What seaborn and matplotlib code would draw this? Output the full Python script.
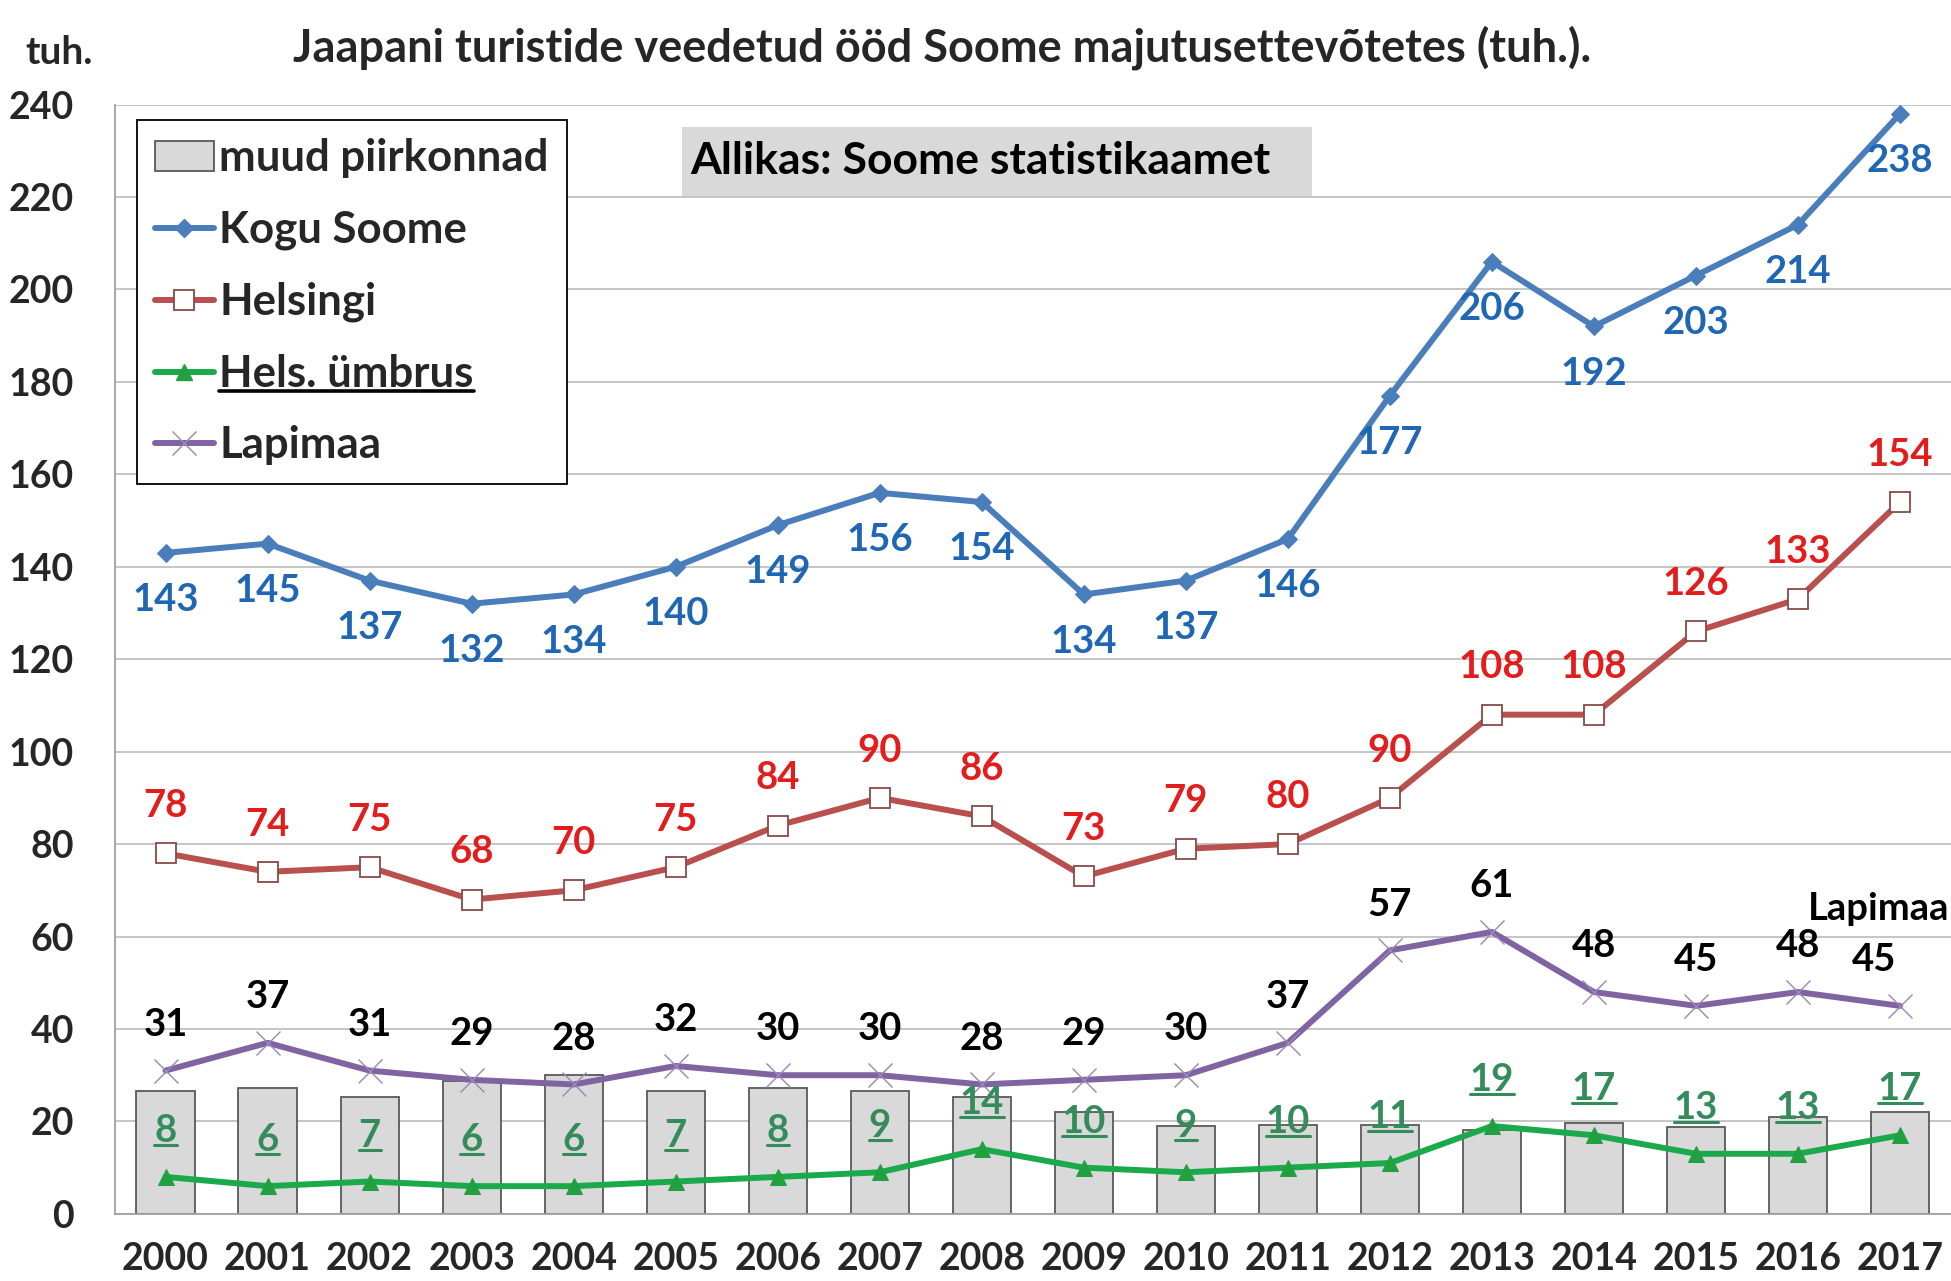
import numpy as np
import pandas as pd
import matplotlib
matplotlib.use("Agg")
import matplotlib.pyplot as plt
import seaborn as sns
from matplotlib.lines import Line2D
from matplotlib.patches import Patch, Rectangle

# data
years = [str(y) for y in range(2000, 2018)]
muud = [26.5, 27.2, 25.2, 28.8, 30.1, 26.5, 27.2, 26.5, 25.2, 22.1,
        19.0, 19.3, 19.3, 18.2, 19.7, 18.7, 21.0, 22.1]
kogu = [143, 145, 137, 132, 134, 140, 149, 156, 154, 134, 137, 146, 177, 206, 192, 203, 214, 238]
helsingi = [78, 74, 75, 68, 70, 75, 84, 90, 86, 73, 79, 80, 90, 108, 108, 126, 133, 154]
umbrus = [8, 6, 7, 6, 6, 7, 8, 9, 14, 10, 9, 10, 11, 19, 17, 13, 13, 17]
lapimaa = [31, 37, 31, 29, 28, 32, 30, 30, 28, 29, 30, 37, 57, 61, 48, 45, 48, 45]
y_ticks = list(range(0, 241, 20))

sns.set_style("white")
plt.rcParams['font.family'] = ['Lato', 'DejaVu Sans']
plt.rcParams['font.weight'] = 'bold'

fig = plt.figure(figsize=(19.51, 12.81), dpi=100)
ax = fig.add_axes([0.0587, 0.0524, 0.9413, 0.866])

idx = np.arange(len(years))
df = pd.DataFrame({'year': years, 'muud': muud})

# bars
sns.barplot(data=df, x='year', y='muud', color='#d9d9d9', edgecolor='#595959',
            linewidth=1.3, width=0.57, saturation=1, ax=ax, zorder=2)

# lines
lw = 4.3
sns.lineplot(x=idx, y=kogu, color='#4a7ebb', linewidth=lw, marker='D', markersize=9,
             markeredgecolor='#4a7ebb', ax=ax, zorder=4)
sns.lineplot(x=idx, y=helsingi, color='#b9504d', linewidth=lw, marker='s', markersize=15,
             markerfacecolor='white', markeredgecolor='#8a4a48', markeredgewidth=1.3,
             ax=ax, zorder=4)
sns.lineplot(x=idx, y=umbrus, color='#1aaa4b', linewidth=lw, marker='^', markersize=12,
             markerfacecolor='#22a040', markeredgecolor='#22a040', ax=ax, zorder=4)
sns.lineplot(x=idx, y=lapimaa, color='#8064a2', linewidth=lw, marker='x', markersize=17,
             markeredgewidth=1.0, markeredgecolor='#9a86b8', ax=ax, zorder=4)

# data labels
lab_fs = 27.5
for i in idx:
    ax.annotate(str(kogu[i]), (i, kogu[i]), xytext=(0, -34), textcoords='offset points',
                ha='center', va='center', fontsize=lab_fs, fontweight='bold', color='#1f66b5', zorder=6)
    ax.annotate(str(helsingi[i]), (i, helsingi[i]), xytext=(0, 34), textcoords='offset points',
                ha='center', va='center', fontsize=lab_fs, fontweight='bold', color='#e31c1c', zorder=6)
    dx = -19 if i == len(years) - 1 else 0
    ax.annotate(str(lapimaa[i]), (i, lapimaa[i]), xytext=(dx, 33), textcoords='offset points',
                ha='center', va='center', fontsize=lab_fs, fontweight='bold', color='black', zorder=6)

green_texts = []
for i in idx:
    t = ax.annotate(str(umbrus[i]), (i, umbrus[i]), xytext=(0, 33), textcoords='offset points',
                    ha='center', va='center', fontsize=lab_fs, fontweight='bold', color='#338c5a', zorder=6)
    green_texts.append(t)

ax.text(17.48, 66, 'Lapimaa', ha='right', va='center', fontsize=lab_fs, fontweight='bold', color='black')

# source box
ax.add_patch(Rectangle((5.06, 220.3), 6.18, 14.8, facecolor='#d9d9d9', edgecolor='none', zorder=3))
ax.text(5.14, 227.8, 'Allikas: Soome statistikaamet', ha='left', va='center',
        fontsize=32, fontweight='bold', color='black', zorder=5)

# axes styling
ax.set_xlim(-0.5, len(years) - 0.5)
ax.set_ylim(0, 240)
ax.set_yticks(y_ticks)
ax.set_xticks(idx)
ax.set_xticklabels(years)
ax.set_xticks(np.arange(-0.5, len(years), 1), minor=True)
ax.set_xlabel('')
ax.set_ylabel('')
ax.grid(axis='y', color='#c0c0c0', linewidth=1.3, zorder=0)
ax.set_axisbelow(True)
ax.tick_params(axis='x', which='major', length=0, pad=20, labelsize=27)
ax.tick_params(axis='x', which='minor', length=14, width=1.2, color='#a0a0a0')
ax.tick_params(axis='y', length=9, width=1.2, color='#a0a0a0', pad=20, labelsize=27)
for lbl in ax.get_xticklabels() + ax.get_yticklabels():
    lbl.set_fontweight('bold')
for s in ['top', 'right']:
    ax.spines[s].set_visible(False)
for s in ['left', 'bottom']:
    ax.spines[s].set_color('#a0a0a0')
    ax.spines[s].set_linewidth(1.3)

# legend
handles = [
    Patch(facecolor='#d9d9d9', edgecolor='#595959', linewidth=1.3),
    Line2D([], [], color='#4a7ebb', lw=lw, marker='D', markersize=9),
    Line2D([], [], color='#b9504d', lw=lw, marker='s', markersize=15, markerfacecolor='white',
           markeredgecolor='#8a4a48', markeredgewidth=1.3),
    Line2D([], [], color='#1aaa4b', lw=lw, marker='^', markersize=12, markerfacecolor='#22a040',
           markeredgecolor='#22a040'),
    Line2D([], [], color='#8064a2', lw=lw, marker='x', markersize=17, markeredgewidth=1.0,
           markeredgecolor='#9a86b8'),
]
names = ['muud piirkonnad', 'Kogu Soome', 'Helsingi', 'Hels. ümbrus', 'Lapimaa']
leg = ax.legend(handles, names, loc='upper left', bbox_to_anchor=(0.012, 0.986),
                prop={'size': 31.5, 'weight': 'bold'}, frameon=True, fancybox=False,
                framealpha=1, edgecolor='black', labelspacing=0.72, handlelength=1.35,
                handletextpad=0.12, borderpad=0.42, borderaxespad=0)
leg.get_frame().set_linewidth(1.3)
leg.set_zorder(7)

fig.text(0.013, 0.959, 'tuh.', ha='left', va='center', fontsize=28, fontweight='bold')
fig.text(0.483, 0.963, 'Jaapani turistide veedetud ööd Soome majutusettevõtetes (tuh.).',
         ha='center', va='center', fontsize=32.5, fontweight='bold')

# underline green labels and one legend entry
fig.canvas.draw()
inv = fig.transFigure.inverted()
to_underline = [(t, '#338c5a', 2.2) for t in green_texts] + [(leg.get_texts()[3], 'black', 2.6)]
for t, c, w in to_underline:
    bb = t.get_window_extent()
    (x0, y0), (x1, _) = inv.transform([(bb.x0, bb.y0 + 3), (bb.x1, bb.y0 + 3)])
    fig.add_artist(Line2D([x0, x1], [y0, y0], color=c, lw=w, transform=fig.transFigure, zorder=8))

fig.savefig('out.png', dpi=100)
